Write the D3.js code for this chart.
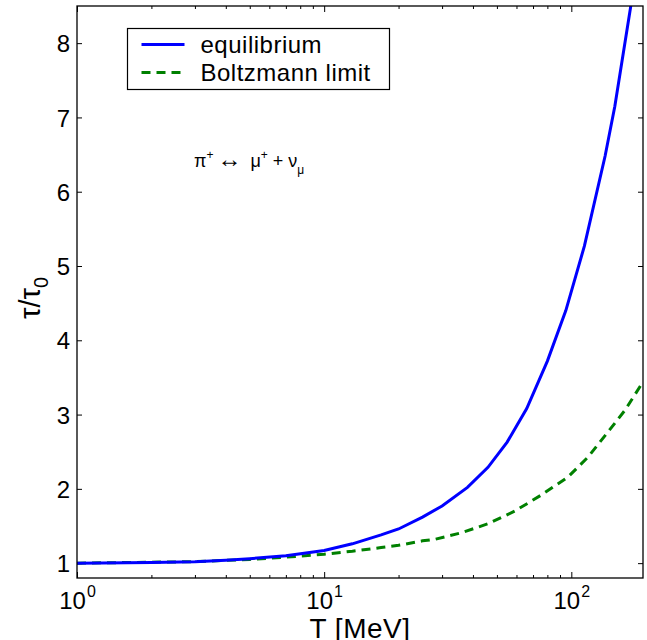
<!DOCTYPE html>
<html>
<head>
<meta charset="utf-8">
<script src="https://cdn.jsdelivr.net/npm/d3@7"></script>
<style>
  body { margin: 0; background: #fff; }
  svg text { font-family: "Liberation Sans", Arial, Helvetica, sans-serif; fill: #000; }
  .axis path, .axis line { stroke: #000; }
</style>
</head>
<body>
<svg id="tauChart"></svg>
<script>
// curves: T in MeV, tau/tau0
var eqT     = [1, 2, 3, 4, 5, 7, 10, 13, 17, 20, 25, 30, 38, 46, 55, 66, 80, 95, 113, 137, 150, 175];
var eqRatio = [1.00, 1.01, 1.02, 1.04, 1.06, 1.10, 1.17, 1.26, 1.38, 1.46, 1.62, 1.77, 2.02, 2.29, 2.63, 3.08, 3.72, 4.40, 5.27, 6.48, 7.15, 8.55];

var boltzT     = [1, 3, 5, 7, 10, 13, 17, 20, 25, 28, 36, 46, 59, 75, 97, 117, 141, 165, 195];
var boltzRatio = [1.00, 1.02, 1.05, 1.08, 1.12, 1.16, 1.21, 1.24, 1.30, 1.32, 1.41, 1.53, 1.70, 1.91, 2.16, 2.43, 2.77, 3.06, 3.44];

var seriesNames = ["equilibrium", "Boltzmann limit"];
var xMajor = [1, 10, 100];
var yTicks = [1, 2, 3, 4, 5, 6, 7, 8];

var margin = {top: 6, right: 4, bottom: 62, left: 77},
    width = 647 - margin.left - margin.right,
    height = 640 - margin.top - margin.bottom;

var x = d3.scaleLog()
    .domain([1, 195])
    .range([0, width]);

var y = d3.scaleLinear()
    .domain([0.8, 8.5])
    .range([height, 0]);

var svg = d3.select("#tauChart")
    .attr("width", 647)
    .attr("height", 640);

var chart = svg.append("g")
    .attr("transform", "translate(" + margin.left + "," + margin.top + ")");

chart.append("clipPath").attr("id", "plotClip")
  .append("rect").attr("width", width).attr("height", height);

// minor ticks (log), bottom and top, no labels
var minor = x.ticks().filter(function(d) { return xMajor.indexOf(d) < 0; });
chart.append("g")
    .attr("class", "axis")
    .attr("transform", "translate(0," + height + ")")
    .call(d3.axisBottom(x).tickValues(minor).tickSize(-3).tickFormat(""))
    .call(function(g) { g.select(".domain").remove(); });
chart.append("g")
    .attr("class", "axis")
    .call(d3.axisTop(x).tickValues(minor).tickSize(-3).tickFormat(""))
    .call(function(g) { g.select(".domain").remove(); });

// major x ticks with 10^n labels
var xAxis = chart.append("g")
    .attr("class", "axis")
    .attr("transform", "translate(0," + height + ")")
    .call(d3.axisBottom(x).tickValues(xMajor).tickSize(-6).tickFormat(""));
xAxis.select(".domain").remove();
xAxis.selectAll(".tick text").remove();
xAxis.selectAll(".tick").append("text")
    .attr("y", 31)
    .attr("text-anchor", "middle")
    .style("font-size", "24px")
    .each(function(d) {
        var t = d3.select(this);
        t.append("tspan").text("10");
        t.append("tspan").attr("dy", -12).attr("dx", 1).style("font-size", "16px").text(Math.round(Math.log10(d)));
    });
chart.append("g")
    .attr("class", "axis")
    .call(d3.axisTop(x).tickValues(xMajor).tickSize(-6).tickFormat(""))
    .call(function(g) { g.select(".domain").remove(); });

// y axes
var yAxis = chart.append("g")
    .attr("class", "axis")
    .call(d3.axisLeft(y).tickValues(yTicks).tickSize(-5).tickPadding(7).tickFormat(d3.format("d")));
yAxis.select(".domain").remove();
yAxis.selectAll(".tick text").style("font-size", "24px").attr("dy", "0.36em");
chart.append("g")
    .attr("class", "axis")
    .attr("transform", "translate(" + width + ",0)")
    .call(d3.axisRight(y).tickValues(yTicks).tickSize(-5).tickFormat(""))
    .call(function(g) { g.select(".domain").remove(); });

// curves
var valueLine = d3.line()
    .x(function(d) { return x(d[0]); })
    .y(function(d) { return y(d[1]); });

var plot = chart.append("g").attr("clip-path", "url(#plotClip)");

plot.append("path")
    .datum(d3.zip(boltzT, boltzRatio))
    .attr("fill", "none")
    .attr("stroke", "#008000")
    .attr("stroke-width", 3)
    .attr("stroke-dasharray", "9,6")
    .attr("d", valueLine);

plot.append("path")
    .datum(d3.zip(eqT, eqRatio))
    .attr("fill", "none")
    .attr("stroke", "#0000ff")
    .attr("stroke-width", 3)
    .attr("d", valueLine);

// frame
chart.append("rect")
    .attr("width", width)
    .attr("height", height)
    .attr("fill", "none")
    .attr("stroke", "#000")
    .attr("stroke-width", 1.3);

// axis labels
svg.append("text")
    .attr("x", 360)
    .attr("y", 638)
    .attr("text-anchor", "middle")
    .style("font-size", "28px")
    .style("letter-spacing", "0.5px")
    .text("T [MeV]");

var ylab = svg.append("text")
    .attr("transform", "translate(40,298) rotate(-90)")
    .attr("text-anchor", "middle")
    .style("font-size", "29px");
ylab.append("tspan").text("\u03c4/\u03c4");
ylab.append("tspan").attr("dy", 8).style("font-size", "20px").text("0");

// reaction annotation
var note = svg.append("text")
    .attr("x", 194)
    .attr("y", 167)
    .style("font-size", "18px");
note.append("tspan").text("\u03c0");
note.append("tspan").attr("dy", -8).style("font-size", "12px").text("+");
note.append("tspan").attr("dy", 8).attr("dx", 4).style("font-size", "24px").text("\u2194");
note.append("tspan").attr("dx", 9).text("\u03bc");
note.append("tspan").attr("dy", -8).style("font-size", "12px").text("+");
note.append("tspan").attr("dy", 8).text(" + \u03bd");
note.append("tspan").attr("dy", 7).style("font-size", "12px").text("\u03bc");

// legend
var legend = svg.append("g").attr("transform", "translate(127.5,28.5)");
legend.append("rect")
    .attr("width", 262)
    .attr("height", 61)
    .attr("fill", "#fff")
    .attr("stroke", "#000")
    .attr("stroke-width", 1.2);
var legendColors = ["#0000ff", "#008000"];
var legendDash = [null, "9,6"];
var row = legend.selectAll(".row")
    .data(seriesNames)
  .enter().append("g")
    .attr("transform", function(d, i) { return "translate(0," + (16 + i * 28) + ")"; });
row.append("line")
    .attr("x1", 14).attr("x2", 57)
    .attr("stroke", function(d, i) { return legendColors[i]; })
    .attr("stroke-width", 3)
    .attr("stroke-dasharray", function(d, i) { return legendDash[i]; });
row.append("text")
    .attr("x", 73)
    .attr("y", 8.5)
    .style("font-size", "24px")
    .style("letter-spacing", "0.5px")
    .text(function(d) { return d; });
</script>
</body>
</html>
